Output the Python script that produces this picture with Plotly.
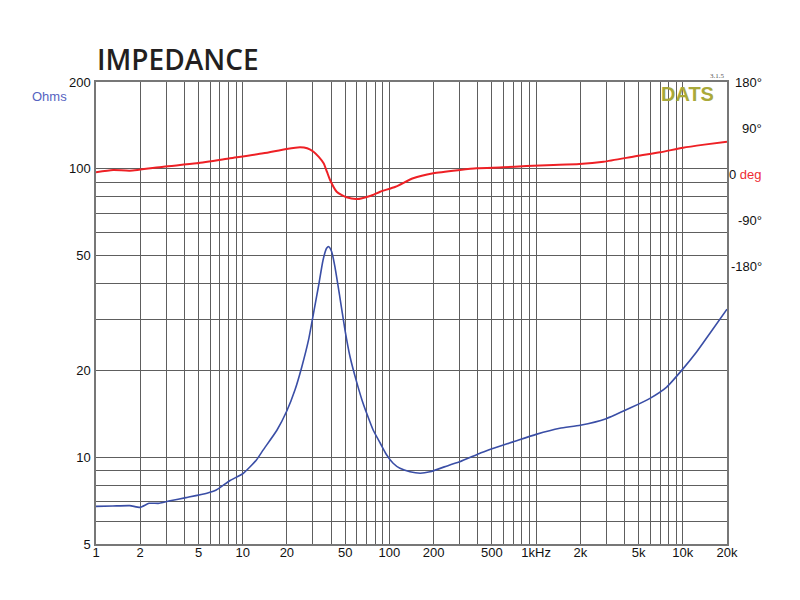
import plotly.graph_objects as go

# ---- data ----
imp_freq = [1, 1.3, 1.7, 2.0, 2.3, 2.7, 3.2, 4.1, 5.7, 6.6, 8.2, 10.1, 12.4, 13.8, 17.1,
            19.9, 22.7, 25.3, 28.1, 30.4, 32.8, 35.3, 37.3, 38.6, 40.4, 42.5, 45.9, 49.8,
            53.9, 59.3, 65, 70, 77.6, 86.5, 95.6, 106, 118, 138, 162, 189, 258, 302, 411,
            455, 500, 697, 1000, 1450, 2000, 3000, 4365, 5970, 7760, 9820, 12440, 15310,
            20000]
imp_ohm = [6.75, 6.77, 6.79, 6.70, 6.92, 6.92, 7.06, 7.24, 7.5, 7.69, 8.3, 8.79, 9.78,
           10.6, 12.4, 14.4, 17.1, 20.6, 25.5, 31.6, 39.0, 48.3, 53.0, 53.7, 51.6, 45.8,
           36.0, 27.6, 22.3, 18.5, 15.8, 14.2, 12.4, 11.2, 10.2, 9.53, 9.15, 8.9, 8.8,
           8.9, 9.4, 9.64, 10.3, 10.5, 10.7, 11.3, 12.0, 12.6, 12.9, 13.6, 14.8, 16.0,
           17.5, 20.0, 23.2, 26.9, 32.6]

ph_freq = [1, 1.31, 1.7, 2.88, 4.86, 8.2, 13.8, 19.9, 24.6, 27.5, 30.4, 33, 35.6, 37.5,
           39.4, 43.7, 51, 59.9, 73.8, 86.5, 110, 145, 199, 302, 394, 596, 859, 1313,
           1975, 2880, 4850, 7000, 10030, 14000, 20000]
ph_deg = [4.1, 8.6, 7.2, 15, 21.6, 31.3, 41, 49.5, 52.8, 51, 44.2, 34, 21.6, 5.3,
          -10.9, -33.7, -44.6, -48, -42, -33.7, -24, -7.6, 2.2, 8.6, 11.9, 13.8, 16.4,
          18.3, 20.2, 24.7, 35.8, 43, 52, 58, 63.7]

x_grid = [m * 10 ** e for e in range(0, 4) for m in range(1, 10)] + [10000, 20000]
x_labels = {1: "1", 2: "2", 5: "5", 10: "10", 20: "20", 50: "50", 100: "100",
            200: "200", 500: "500", 1000: "1kHz", 2000: "2k", 5000: "5k",
            10000: "10k", 20000: "20k"}
y_grid = [5, 6, 7, 8, 9, 10, 20, 30, 40, 50, 60, 70, 80, 90, 100, 200]
y_labels = {5: "5", 10: "10", 20: "20", 50: "50", 100: "100", 200: "200"}
ph_ticks = [180, 90, 0, -90, -180]
ph_labels = ["180°", "90°", "0 <span style='color:#ee2d35'>deg</span>", "-90°", "-180°"]

BLUE = "#3a4ea6"
RED = "#ee2025"
GRID = "#5e5e5e"

# plot area in pixels: x 96..727, y 82..544
def px(xp):
    return (xp - 96) / 631

def py(yp):
    return (544 - yp) / 462

fig = go.Figure()
fig.add_trace(go.Scatter(x=imp_freq, y=imp_ohm, mode="lines",
                         line=dict(color=BLUE, width=1.6, shape="spline", smoothing=0.5),
                         yaxis="y", showlegend=False))
fig.add_trace(go.Scatter(x=ph_freq, y=ph_deg, mode="lines",
                         line=dict(color=RED, width=2, shape="spline", smoothing=0.6),
                         yaxis="y2", showlegend=False))

fig.update_layout(
    width=800, height=600,
    margin=dict(l=96, r=73, t=82, b=56),
    paper_bgcolor="white", plot_bgcolor="white",
    font=dict(family="Liberation Sans, Arial", size=13, color="#111"),
    xaxis=dict(type="log", range=[0, 4.30103],
               tickmode="array", tickvals=x_grid,
               ticktext=[x_labels.get(v, "") for v in x_grid],
               showgrid=True, gridcolor=GRID, gridwidth=1,
               showline=True, linecolor="#777", linewidth=1.5, mirror=True,
               ticks="", ticklabelstandoff=-4, zeroline=False),
    yaxis=dict(type="log", range=[0.69897, 2.30103],
               tickmode="array", tickvals=y_grid,
               ticktext=[y_labels.get(v, "") for v in y_grid],
               showgrid=True, gridcolor=GRID, gridwidth=1,
               showline=True, linecolor="#777", linewidth=1.5, mirror=True,
               ticks="", ticklabelstandoff=1, zeroline=False),
    yaxis2=dict(overlaying="y", side="right", range=[-720, 180],
                tickmode="array", tickvals=ph_ticks, showticklabels=False,
                showgrid=False, zeroline=False, showline=False, ticks=""),
)

# right-aligned phase labels positioned on the phase axis
for v, t in zip(ph_ticks, ph_labels):
    fig.add_annotation(x=px(764), xref="paper", xanchor="right", y=v, yref="y2",
                       yanchor="middle", text=t, showarrow=False,
                       font=dict(family="Liberation Sans, Arial", size=13, color="#111"))

fig.add_annotation(x=px(69), xref="paper", xanchor="right",
                   y=py(97), yref="paper", yanchor="middle",
                   text="Ohms", showarrow=False,
                   font=dict(family="Liberation Sans, Arial", size=13, color="#5563c1"))

fig.add_annotation(x=px(95), xref="paper", xanchor="left",
                   y=py(59), yref="paper", yanchor="middle",
                   text="IMPEDANCE", showarrow=False,
                   font=dict(family="Open Sans", size=28, color="#231f20", weight=600))

fig.add_annotation(x=px(687), xref="paper", xanchor="center",
                   y=py(94), yref="paper", yanchor="middle",
                   text="<b>DATS</b>", showarrow=False,
                   font=dict(family="Liberation Sans, Arial", size=20, color="#a9a93a"))
fig.add_annotation(x=px(717), xref="paper", xanchor="center",
                   y=py(76), yref="paper", yanchor="middle",
                   text="3.1.5", showarrow=False,
                   font=dict(family="Liberation Serif, Times New Roman", size=7, color="#555"))

fig.write_html("out.html")
